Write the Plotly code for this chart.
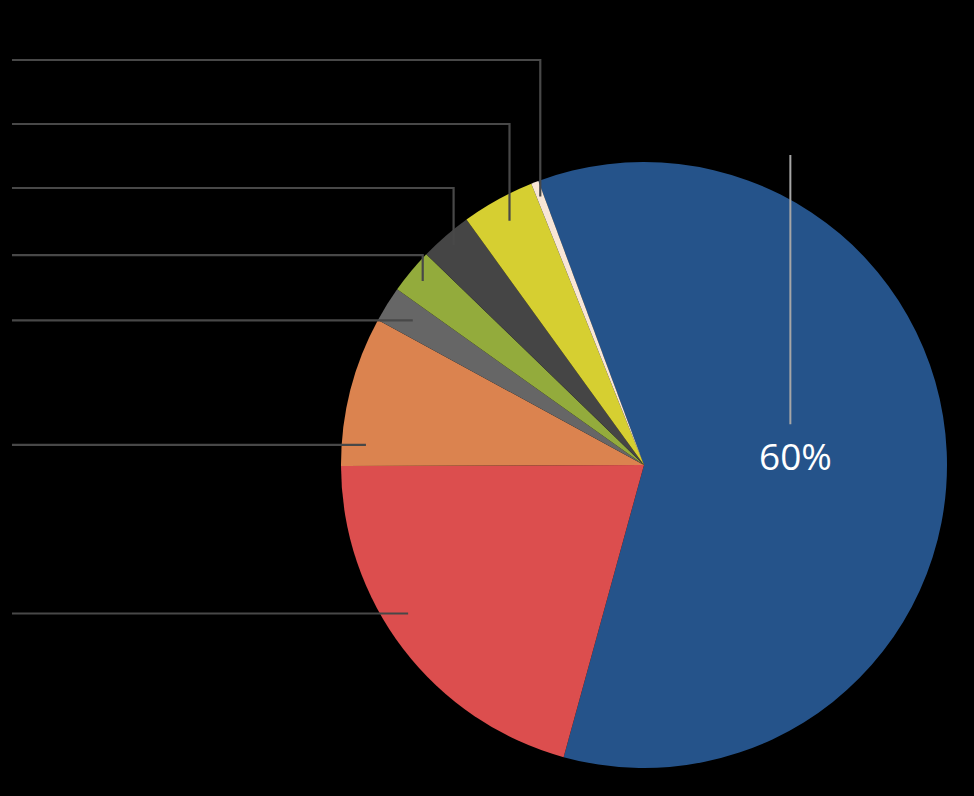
import math
import plotly.graph_objects as go

W, H = 974, 796

# slice data, clockwise from the top-left edge of the big slice
labels = ["A", "B", "C", "D", "E", "F", "G", "H"]
values = [60.0, 20.7, 8.0, 1.9, 2.4, 2.8, 3.9, 0.4]
colors = ["#25538a", "#dc4e4e", "#db834f", "#666666",
          "#93ab3c", "#454545", "#d6cf31", "#f8e6d6"]
shown = ["60%", "", "", "", "", "", "", ""]

# pie placement (pixels)
CX, CY, R = 644, 465, 303
START = -20.4  # degrees clockwise from 12 o'clock

# leader line layout: (slice index, where in slice 0..1, radius frac, elbow y or None)
leaders = [
    (7, 0.5, 0.95, 60),
    (6, 0.5, 0.92, 124),
    (5, 0.5, 0.96, 188),
    (4, 0.5, 0.95, 255),
    (3, 0.5, 0.90, None),
    (2, 0.15, 0.92, None),
    (1, 0.57, 0.92, None),
]
LEFT_X = 12


def px(x, y):
    return x / W, 1 - y / H


def slice_point(i, frac, rfrac):
    total = sum(values)
    a0 = START + 360 * sum(values[:i]) / total
    a = a0 + 360 * values[i] / total * frac
    t = math.radians(a)
    return CX + rfrac * R * math.sin(t), CY - rfrac * R * math.cos(t)


fig = go.Figure(go.Pie(
    labels=labels, values=values, sort=False, direction="clockwise",
    rotation=START,
    marker=dict(colors=colors, line=dict(width=0)),
    textinfo="none", hoverinfo="label+percent",
    domain=dict(x=[(CX - R) / W, (CX + R) / W],
                y=[1 - (CY + R) / H, 1 - (CY - R) / H]),
    showlegend=False,
))

shapes = []
line_style = dict(color="#484848", width=2.2)
for i, frac, rf, elbow in leaders:
    x0, y0 = slice_point(i, frac, rf)
    if elbow is None:
        pts = [(x0, y0), (LEFT_X, y0)]
    else:
        pts = [(x0, y0), (x0, elbow), (LEFT_X, elbow)]
    path = "M " + " L ".join("%.4f,%.4f" % px(x, y) for x, y in pts)
    shapes.append(dict(type="path", path=path, xref="paper", yref="paper",
                       line=line_style))

# label for the big slice with its vertical guide line
lx, ly = slice_point(0, 0.5, 0.5)
shapes.append(dict(type="line", xref="paper", yref="paper",
                   x0=(lx - 5) / W, x1=(lx - 5) / W,
                   y0=1 - (CY - R - 7) / H, y1=1 - (ly - 34) / H,
                   line=dict(color="#a6a6a6", width=2)))

fig.add_annotation(x=lx / W, y=1 - ly / H, xref="paper", yref="paper",
                   xanchor="center", yanchor="middle", yshift=3,
                   text=shown[0], showarrow=False,
                   font=dict(family="Open Sans", size=37, color="white"))

fig.update_layout(
    width=W, height=H,
    margin=dict(l=0, r=0, t=0, b=0),
    paper_bgcolor="black", plot_bgcolor="black",
    shapes=shapes,
)

fig.write_html("out.html", config={"displayModeBar": False},
               post_script="document.body.style.margin='0';"
                           "document.body.style.background='black';")
